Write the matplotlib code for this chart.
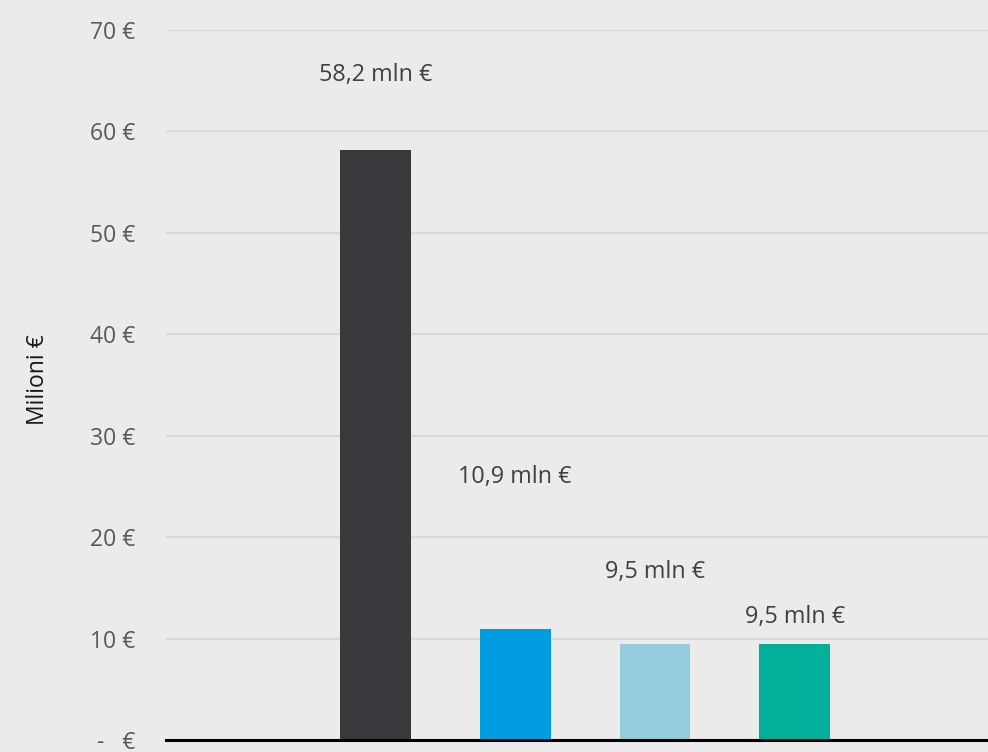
import matplotlib
matplotlib.use("Agg")
import matplotlib.pyplot as plt
import numpy as np

# Data
categories = ["A", "B", "C", "D"]
values = [58.2, 10.9, 9.5, 9.5]
labels = ["58,2 mln €", "10,9 mln €", "9,5 mln €", "9,5 mln €"]
label_y = [65.6, 25.9, 16.6, 12.1]
colors = ["#3a383d", "#009ee0", "#93cddc", "#00b09b"]
yticks = [0, 10, 20, 30, 40, 50, 60, 70]
ytick_labels = ["-   €", "10 €", "20 €", "30 €", "40 €", "50 €", "60 €", "70 €"]

plt.rcParams["font.family"] = ["Open Sans", "DejaVu Sans"]

W, H = 988, 752
fig = plt.figure(figsize=(W / 100, H / 100), dpi=100)
bg = "#ebebeb"
fig.patch.set_facecolor(bg)

left, right = 166, 988
bottom, top = 740, 30
ax = fig.add_axes([left / W, (H - bottom) / H, (right - left) / W, (bottom - top) / H])
ax.set_facecolor(bg)

x = np.arange(1, len(categories) + 1)
ax.bar(x, values, width=0.505, color=colors, zorder=3)

for xi, lab, ly in zip(x, labels, label_y):
    ax.text(xi, ly, lab, ha="center", va="center", fontsize=16.8, color="#404040", zorder=4)

ax.set_xlim(-0.5, -0.5 + (right - left) / 139.7)
ax.set_ylim(0, 70)
ax.set_yticks(yticks)
ax.set_yticklabels(ytick_labels, fontsize=16.5, color="#595959")
ax.tick_params(axis="y", length=0, pad=22)
ax.set_xticks([])
ax.grid(axis="y", color="#d9d9d9", linewidth=1.5, zorder=0)
for s in ["top", "right", "left"]:
    ax.spines[s].set_visible(False)
ax.spines["bottom"].set_color("black")
ax.spines["bottom"].set_linewidth(2.2)
ax.spines["bottom"].set_zorder(5)

fig.text(38 / W, 1 - 380 / H, "Milioni €", rotation=90, ha="center", va="center",
         fontsize=16.5, color="#1a1a1a")

fig.savefig("out.png", dpi=100, facecolor=bg)
